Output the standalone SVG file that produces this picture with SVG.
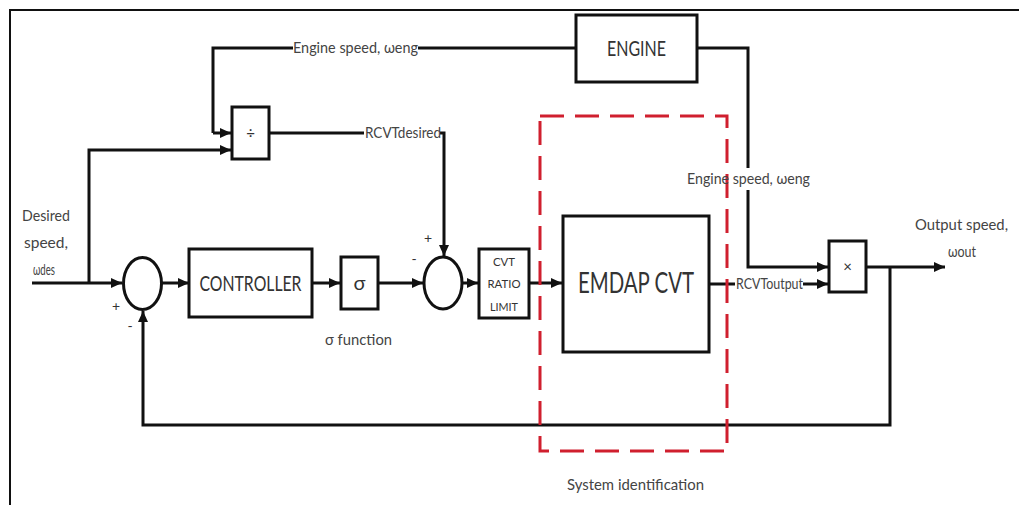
<svg xmlns="http://www.w3.org/2000/svg" width="1019" height="505" viewBox="0 0 1019 505">
<style>
.ln{fill:none;stroke:#111;stroke-width:3}
.bx{fill:#fff;stroke:#111;stroke-width:3}
.t{font-family:Lato,"Liberation Sans",sans-serif;fill:#333}
.lb{font-family:Lato,"Liberation Sans",sans-serif;fill:#444;font-size:15px}
.sys{fill:none;stroke:#d01f2e;stroke-width:3;stroke-dasharray:24 11}
</style>
<defs>
<marker id="ar" markerUnits="userSpaceOnUse" markerWidth="12" markerHeight="12" refX="11" refY="5" orient="auto">
<path d="M0,0 L11,5 L0,10 z" fill="#111"/>
</marker>
</defs>
<rect width="1019" height="505" fill="#fff"/>
<path d="M10,505 V10 H1019" fill="none" stroke="#111" stroke-width="2"/>

<g id="connectors">
<path class="ln" d="M32,283 H122" marker-end="url(#ar)"/>
<path class="ln" d="M89,283 V150 H231" marker-end="url(#ar)"/>
<path class="ln" d="M213,133 V48 H293"/>
<path class="ln" d="M418,48 H576"/>
<path class="ln" d="M213,133 H231" marker-end="url(#ar)"/>
<path class="ln" d="M697,48 H748 V168"/>
<path class="ln" d="M748,190 V267 H828" marker-end="url(#ar)"/>
<path class="ln" d="M269,133 H364"/>
<path class="ln" d="M440,133 H444 V256" marker-end="url(#ar)"/>
<path class="ln" d="M162,283 H189" marker-end="url(#ar)"/>
<path class="ln" d="M312,283 H340" marker-end="url(#ar)"/>
<path class="ln" d="M378,283 H423" marker-end="url(#ar)"/>
<path class="ln" d="M462,283 H478" marker-end="url(#ar)"/>
<path class="ln" d="M529,283 H562" marker-end="url(#ar)"/>
<path class="ln" d="M709,284 H735"/>
<path class="ln" d="M803,284 H828" marker-end="url(#ar)"/>
<path class="ln" d="M866,267 H945" marker-end="url(#ar)"/>
<path class="ln" d="M890,267 V425 H143 V311" marker-end="url(#ar)"/>
</g>

<g id="engine">
<rect class="bx" x="576" y="15" width="121" height="67"/>
<text class="t" x="636.5" y="56" font-size="22" text-anchor="middle" textLength="59" lengthAdjust="spacingAndGlyphs">ENGINE</text>
</g>
<g id="divide">
<rect class="bx" x="232" y="107" width="37" height="52"/>
<text class="t" x="250.5" y="138" font-size="15" text-anchor="middle" fill="#666">÷</text>
</g>
<g id="sum1">
<ellipse class="bx" cx="142.5" cy="283.5" rx="19" ry="26"/>
<text class="t" x="116" y="311" font-size="14" text-anchor="middle">+</text>
<text class="t" x="130" y="331" font-size="14" text-anchor="middle">-</text>
</g>
<g id="controller">
<rect class="bx" x="189" y="249" width="123" height="68"/>
<text class="t" x="250.5" y="291" font-size="22" text-anchor="middle" textLength="102" lengthAdjust="spacingAndGlyphs">CONTROLLER</text>
</g>
<g id="sigma">
<rect class="bx" x="341" y="257" width="37" height="52"/>
<text class="t" x="359.5" y="290" font-size="20" text-anchor="middle">σ</text>
</g>
<g id="sum2">
<ellipse class="bx" cx="443" cy="283" rx="19" ry="26"/>
<text class="t" x="428" y="243" font-size="14" text-anchor="middle">+</text>
<text class="t" x="414" y="264" font-size="14" text-anchor="middle">-</text>
</g>
<g id="cvt-ratio-limit">
<rect class="bx" x="479" y="249" width="50" height="69"/>
<text class="t" x="504" y="266" font-size="11" text-anchor="middle" textLength="22" lengthAdjust="spacingAndGlyphs">CVT</text>
<text class="t" x="504" y="288" font-size="11" text-anchor="middle" textLength="33" lengthAdjust="spacingAndGlyphs">RATIO</text>
<text class="t" x="504" y="311" font-size="11" text-anchor="middle" textLength="28" lengthAdjust="spacingAndGlyphs">LIMIT</text>
</g>
<g id="emdap-cvt">
<rect class="bx" x="563" y="216" width="146" height="136"/>
<text class="t" x="636" y="293" font-size="28" text-anchor="middle" textLength="116" lengthAdjust="spacingAndGlyphs">EMDAP CVT</text>
</g>
<g id="multiply">
<rect class="bx" x="829" y="241" width="37" height="51"/>
<text class="t" x="847.5" y="272" font-size="15" text-anchor="middle">×</text>
</g>
<g id="system-identification">
<rect class="sys" x="540" y="116" width="187" height="335"/>
<text class="lb" x="635.5" y="490" text-anchor="middle" textLength="137" lengthAdjust="spacingAndGlyphs">System identification</text>
</g>

<g id="labels">
<text class="lb" x="293" y="53" textLength="125" lengthAdjust="spacingAndGlyphs">Engine speed, ωeng</text>
<text class="lb" x="365" y="138" font-size="13" textLength="76" lengthAdjust="spacingAndGlyphs">RCVTdesired</text>
<text class="lb" x="46" y="221" text-anchor="middle" textLength="48" lengthAdjust="spacingAndGlyphs">Desired</text>
<text class="lb" x="46" y="248" text-anchor="middle" textLength="44" lengthAdjust="spacingAndGlyphs">speed,</text>
<text class="lb" x="44" y="275" font-size="12" text-anchor="middle" textLength="22" lengthAdjust="spacingAndGlyphs">ωdes</text>
<text class="lb" x="358.5" y="345" text-anchor="middle" textLength="67" lengthAdjust="spacingAndGlyphs">σ function</text>
<text class="lb" x="687" y="184" textLength="123" lengthAdjust="spacingAndGlyphs">Engine speed, ωeng</text>
<text class="lb" x="736" y="289" font-size="13" textLength="67" lengthAdjust="spacingAndGlyphs">RCVToutput</text>
<text class="lb" x="961.5" y="230" text-anchor="middle" textLength="93" lengthAdjust="spacingAndGlyphs">Output speed,</text>
<text class="lb" x="962" y="257" font-size="12" text-anchor="middle" textLength="28" lengthAdjust="spacingAndGlyphs">ωout</text>
</g>
</svg>
